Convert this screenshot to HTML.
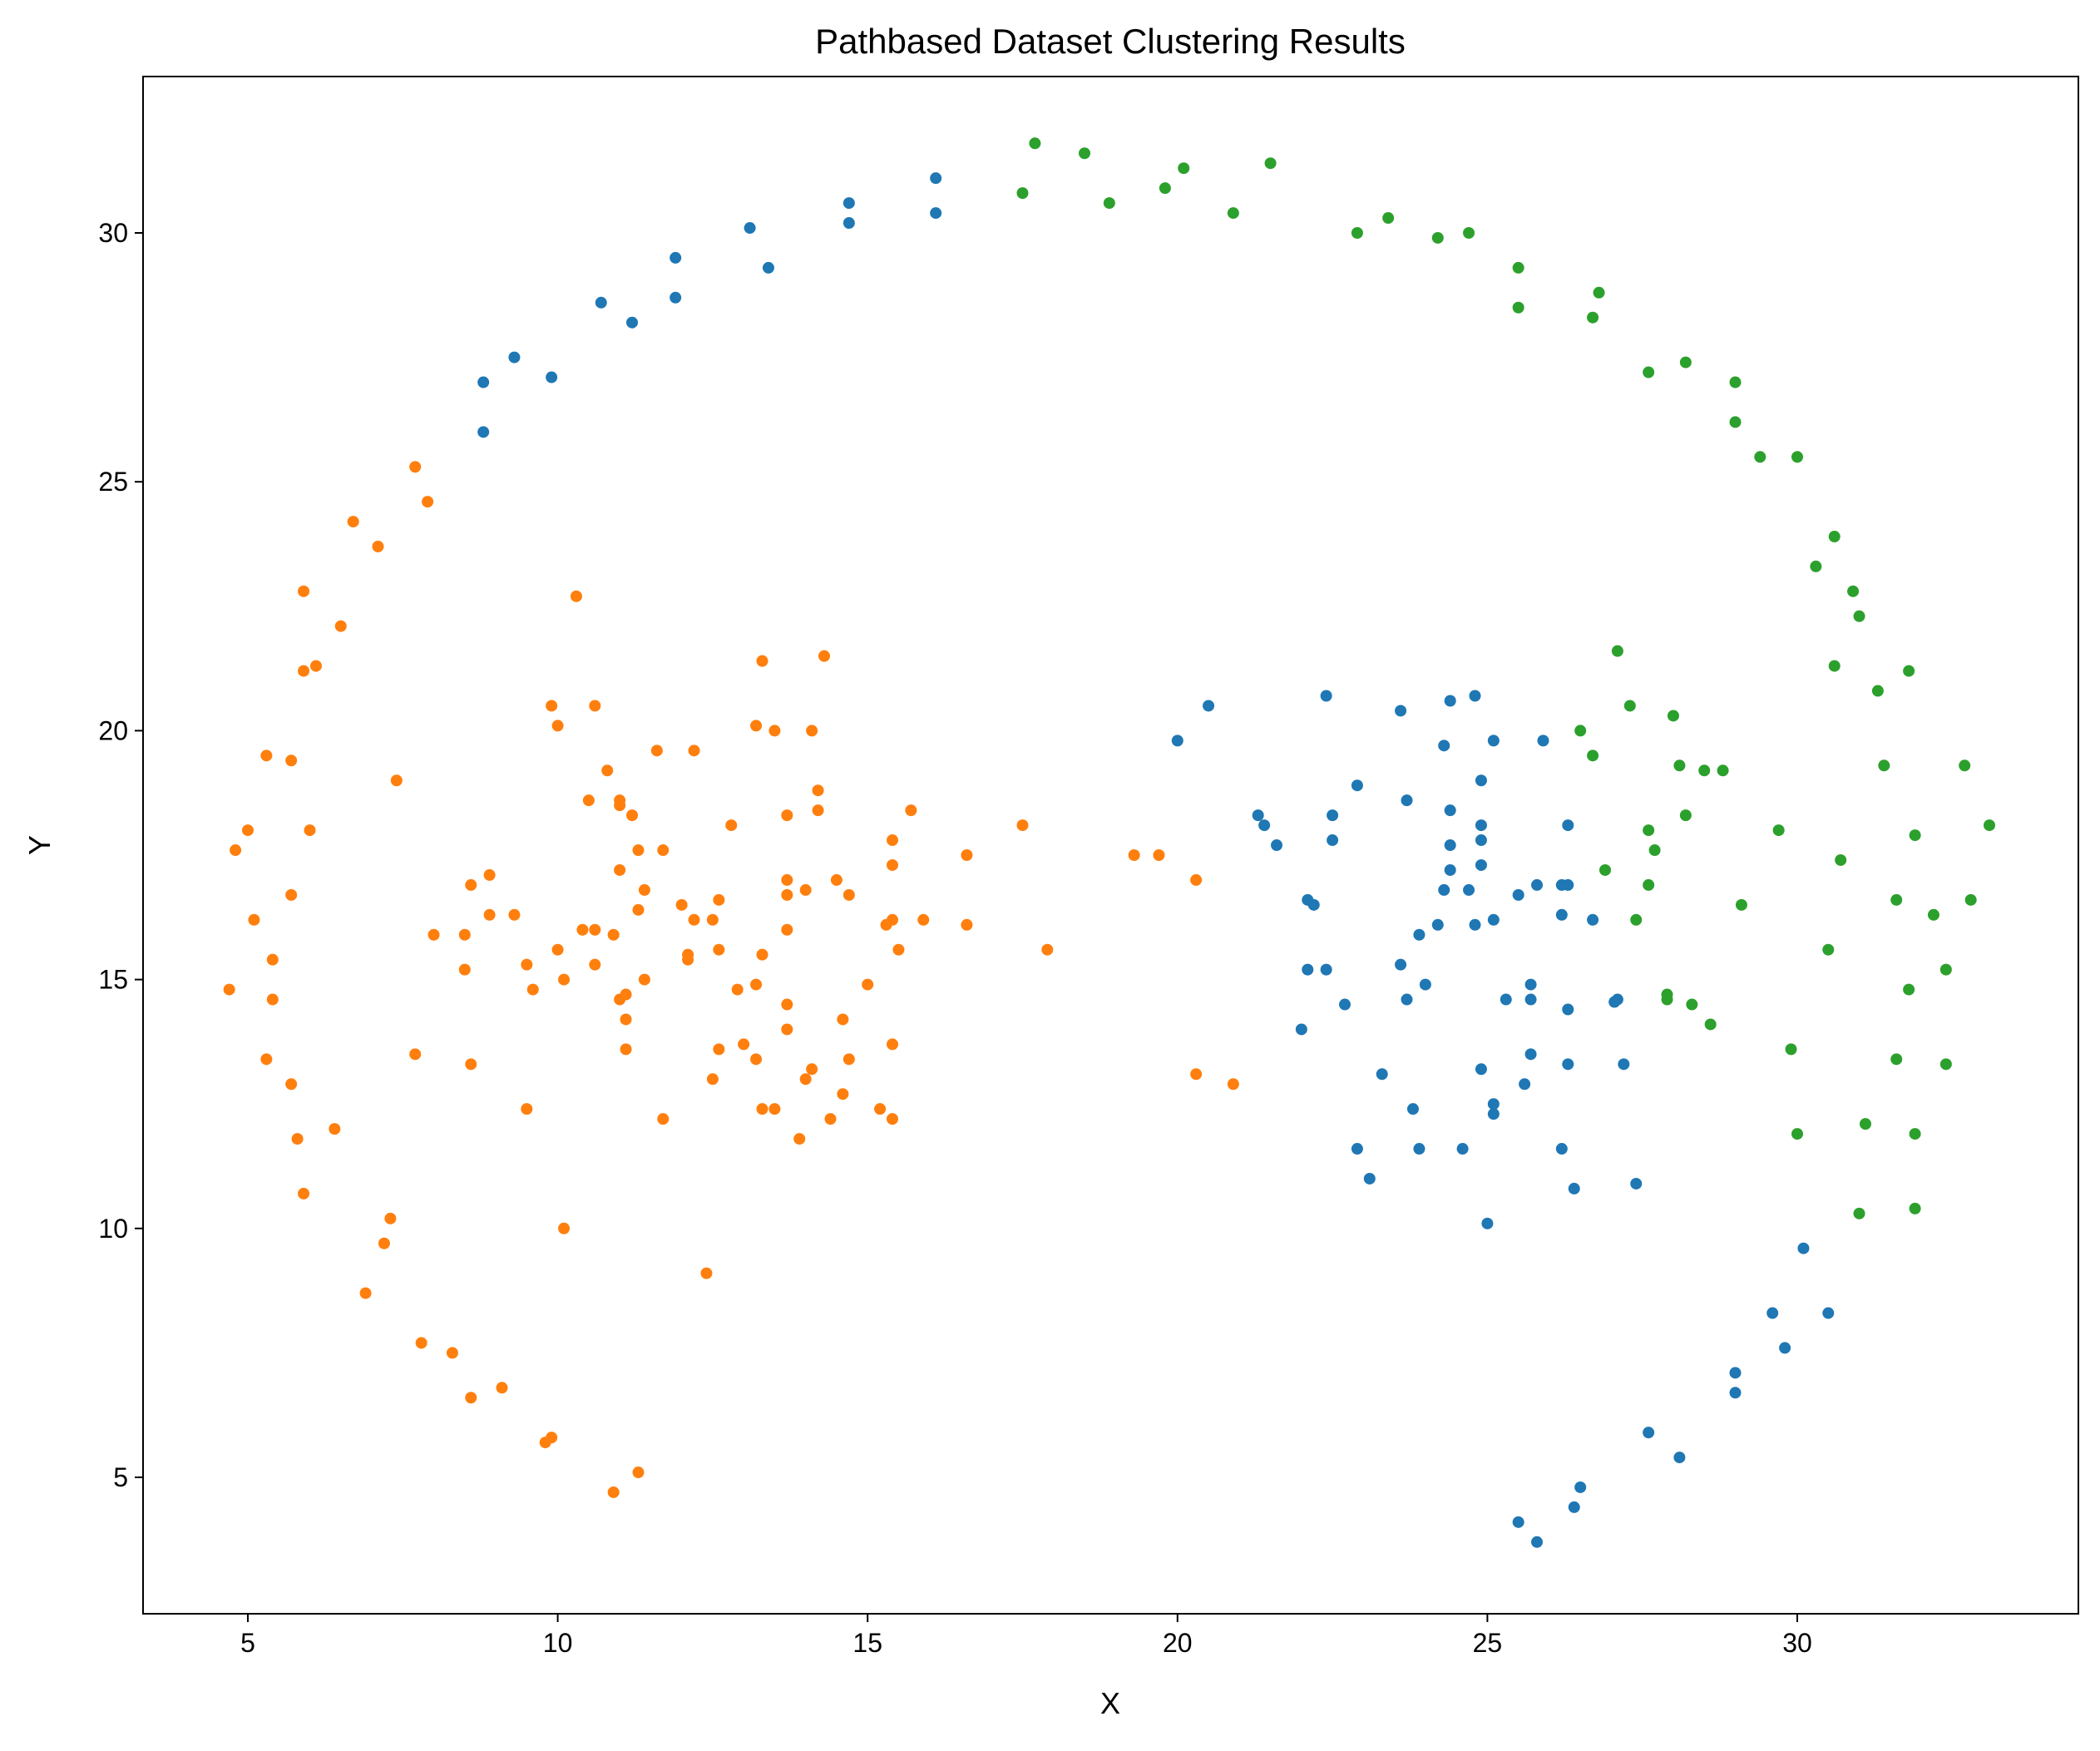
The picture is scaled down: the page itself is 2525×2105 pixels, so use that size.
<!DOCTYPE html>
<html><head><meta charset="utf-8"><style>
body{margin:0;background:#fff}
svg text{font-family:"Liberation Sans","DejaVu Sans",sans-serif;fill:#000}
</style></head><body>
<svg id="chart" width="2525" height="2100" xmlns="http://www.w3.org/2000/svg">
<rect width="2525" height="2100" fill="#fff"/>
<text x="1335" y="64" font-size="42" text-anchor="middle">Pathbased Dataset Clustering Results</text>
<text x="1335" y="2060" font-size="36" text-anchor="middle">X</text>
<text x="60" y="1016" font-size="36" text-anchor="middle" transform="rotate(-90 60 1016)">Y</text>
<g id="marks"></g>
<g id="axes"></g>
</svg>
<script>
const xTicks=[5,10,15,20,25,30];
const yTicks=[5,10,15,20,25,30];
const greenPts=[[17.7,31.8],[18.5,31.6],[17.5,30.8],[18.9,30.6],[20.1,31.3],[19.8,30.9],[21.5,31.4],[20.9,30.4],[22.9,30.0],[23.4,30.3],[24.2,29.9],[24.7,30.0],[25.5,29.3],[25.5,28.5],[26.8,28.8],[26.7,28.3],[27.6,27.2],[28.2,27.4],[29.0,27.0],[29.0,26.2],[29.4,25.5],[30.0,25.5],[30.6,23.9],[30.3,23.3],[30.9,22.8],[31.0,22.3],[27.1,21.6],[30.6,21.3],[31.8,21.2],[31.3,20.8],[27.3,20.5],[28.0,20.3],[26.5,20.0],[26.7,19.5],[28.1,19.3],[28.5,19.2],[28.8,19.2],[31.4,19.3],[32.7,19.3],[28.2,18.3],[27.6,18.0],[29.7,18.0],[31.9,17.9],[33.1,18.1],[27.7,17.6],[30.7,17.4],[26.9,17.2],[27.6,16.9],[27.4,16.2],[29.1,16.5],[31.6,16.6],[32.2,16.3],[32.8,16.6],[30.5,15.6],[32.4,15.2],[31.8,14.8],[27.9,14.7],[27.9,14.6],[28.3,14.5],[28.6,14.1],[29.9,13.6],[31.6,13.4],[32.4,13.3],[31.1,12.1],[30.0,11.9],[31.9,11.9],[31.0,10.3],[31.9,10.4]];
const bluePts=[[8.8,26.0],[8.8,27.0],[9.3,27.5],[9.9,27.1],[10.7,28.6],[11.2,28.2],[11.9,29.5],[11.9,28.7],[13.1,30.1],[13.4,29.3],[14.7,30.6],[14.7,30.2],[16.1,31.1],[16.1,30.4],[25.5,4.1],[25.8,3.7],[26.4,4.4],[26.5,4.8],[27.6,5.9],[28.1,5.4],[29.0,7.1],[29.0,6.7],[29.8,7.6],[29.6,8.3],[30.5,8.3],[30.1,9.6],[20.0,19.8],[20.5,20.5],[22.4,20.7],[23.6,20.4],[24.3,19.7],[24.4,20.6],[24.8,20.7],[25.1,19.8],[25.9,19.8],[22.9,18.9],[23.7,18.6],[24.4,18.4],[24.9,19.0],[21.3,18.3],[21.4,18.1],[21.6,17.7],[22.5,18.3],[22.5,17.8],[24.4,17.7],[24.4,17.2],[24.9,17.8],[24.9,18.1],[26.3,18.1],[24.3,16.8],[24.7,16.8],[24.9,17.3],[25.5,16.7],[25.8,16.9],[26.2,16.9],[26.3,16.9],[22.1,16.6],[22.2,16.5],[23.9,15.9],[24.2,16.1],[24.8,16.1],[25.1,16.2],[26.2,16.3],[26.7,16.2],[22.1,15.2],[22.4,15.2],[23.6,15.3],[22.7,14.5],[23.7,14.6],[24.0,14.9],[25.3,14.6],[25.7,14.9],[25.7,14.6],[26.3,14.4],[27.1,14.6],[27.05,14.55],[22.0,14.0],[23.3,13.1],[24.9,13.2],[25.7,13.5],[26.3,13.3],[27.2,13.3],[25.6,12.9],[23.8,12.4],[25.1,12.5],[25.1,12.3],[22.9,11.6],[23.9,11.6],[24.6,11.6],[26.2,11.6],[23.1,11.0],[26.4,10.8],[27.4,10.9],[25.0,10.1]];
const orangePts=[[7.7,25.3],[7.9,24.6],[6.7,24.2],[7.1,23.7],[5.9,22.8],[6.5,22.1],[5.9,21.2],[6.1,21.3],[5.3,19.5],[5.7,19.4],[7.4,19.0],[6.0,18.0],[5.0,18.0],[4.8,17.6],[5.7,16.7],[5.1,16.2],[5.4,15.4],[5.4,14.6],[4.7,14.8],[5.3,13.4],[5.7,12.9],[6.4,12.0],[5.8,11.8],[5.9,10.7],[7.3,10.2],[7.2,9.7],[6.9,8.7],[7.8,7.7],[8.3,7.5],[9.1,6.8],[8.6,6.6],[9.8,5.7],[9.9,5.8],[10.9,4.7],[11.3,5.1],[10.3,22.7],[9.9,20.5],[10.6,20.5],[10.0,20.1],[13.3,21.4],[14.3,21.5],[13.2,20.1],[13.5,20.0],[14.1,20.0],[12.2,19.6],[11.6,19.6],[10.8,19.2],[10.5,18.6],[11.0,18.6],[11.0,18.5],[11.2,18.3],[14.2,18.8],[15.7,18.4],[13.7,18.3],[14.2,18.4],[12.8,18.1],[17.5,18.1],[15.4,17.8],[11.3,17.6],[11.7,17.6],[11.0,17.2],[13.7,17.0],[14.5,17.0],[15.4,17.3],[16.6,17.5],[19.3,17.5],[19.7,17.5],[20.3,17.0],[8.6,16.9],[8.9,17.1],[11.4,16.8],[13.7,16.7],[14.0,16.8],[14.7,16.7],[12.6,16.6],[12.0,16.5],[11.3,16.4],[8.0,15.9],[8.5,15.9],[8.9,16.3],[9.3,16.3],[10.4,16.0],[10.6,16.0],[10.9,15.9],[12.2,16.2],[12.5,16.2],[13.7,16.0],[15.3,16.1],[15.4,16.2],[15.9,16.2],[16.6,16.1],[10.0,15.6],[10.6,15.3],[9.5,15.3],[8.5,15.2],[9.6,14.8],[10.1,15.0],[11.4,15.0],[11.1,14.7],[11.0,14.6],[12.1,15.4],[12.1,15.5],[12.6,15.6],[13.3,15.5],[15.5,15.6],[17.9,15.6],[12.9,14.8],[13.2,14.9],[15.0,14.9],[13.7,14.5],[13.7,14.0],[14.6,14.2],[11.1,14.2],[11.1,13.6],[7.7,13.5],[8.6,13.3],[12.6,13.6],[13.0,13.7],[13.2,13.4],[14.1,13.2],[14.0,13.0],[14.7,13.4],[14.6,12.7],[15.4,13.7],[12.5,13.0],[20.3,13.1],[20.9,12.9],[9.5,12.4],[13.3,12.4],[13.5,12.4],[15.2,12.4],[11.7,12.2],[14.4,12.2],[15.4,12.2],[13.9,11.8],[10.1,10.0],[12.4,9.1]];

const L=172,R=2499,T=92,B=1940;
const xs=v=>298+(v-5)*74.52;
const ys=v=>280-(v-30)*59.84;
const NS='http://www.w3.org/2000/svg';
const marks=document.getElementById('marks');
function drawSeries(pts,color,name){
  pts.forEach(p=>{
    const c=document.createElementNS(NS,'circle');
    c.setAttribute('cx',xs(p[0]));c.setAttribute('cy',ys(p[1]));
    c.setAttribute('r',7);c.setAttribute('fill',color);
    
    
    marks.appendChild(c);
  });
}
drawSeries(bluePts,'#1f77b4','blue-cluster-point');
drawSeries(orangePts,'#ff7f0e','orange-cluster-point');
drawSeries(greenPts,'#2ca02c','green-cluster-point');

const axes=document.getElementById('axes');
const frame=document.createElementNS(NS,'rect');
frame.setAttribute('x',L);frame.setAttribute('y',T);frame.setAttribute('width',R-L);frame.setAttribute('height',B-T);
frame.setAttribute('fill','none');frame.setAttribute('stroke','#000');frame.setAttribute('stroke-width','2');


axes.appendChild(frame);
xTicks.forEach(t=>{
  const x=xs(t);
  const l=document.createElementNS(NS,'line');
  l.setAttribute('x1',x);l.setAttribute('x2',x);l.setAttribute('y1',B);l.setAttribute('y2',B+10);
  l.setAttribute('stroke','#000');l.setAttribute('stroke-width','2');
  
  
  axes.appendChild(l);
  const tx=document.createElementNS(NS,'text');
  tx.setAttribute('x',x);tx.setAttribute('y',B+46);tx.setAttribute('font-size','32');tx.setAttribute('text-anchor','middle');
  tx.textContent=t;
  
  
  axes.appendChild(tx);
});
yTicks.forEach(t=>{
  const y=ys(t);
  const l=document.createElementNS(NS,'line');
  l.setAttribute('x1',L-10);l.setAttribute('x2',L);l.setAttribute('y1',y);l.setAttribute('y2',y);
  l.setAttribute('stroke','#000');l.setAttribute('stroke-width','2');
  
  
  axes.appendChild(l);
  const tx=document.createElementNS(NS,'text');
  tx.setAttribute('x',L-18);tx.setAttribute('y',y+11);tx.setAttribute('font-size','32');tx.setAttribute('text-anchor','end');
  tx.textContent=t;
  
  
  axes.appendChild(tx);
});
</script>
</body></html>
